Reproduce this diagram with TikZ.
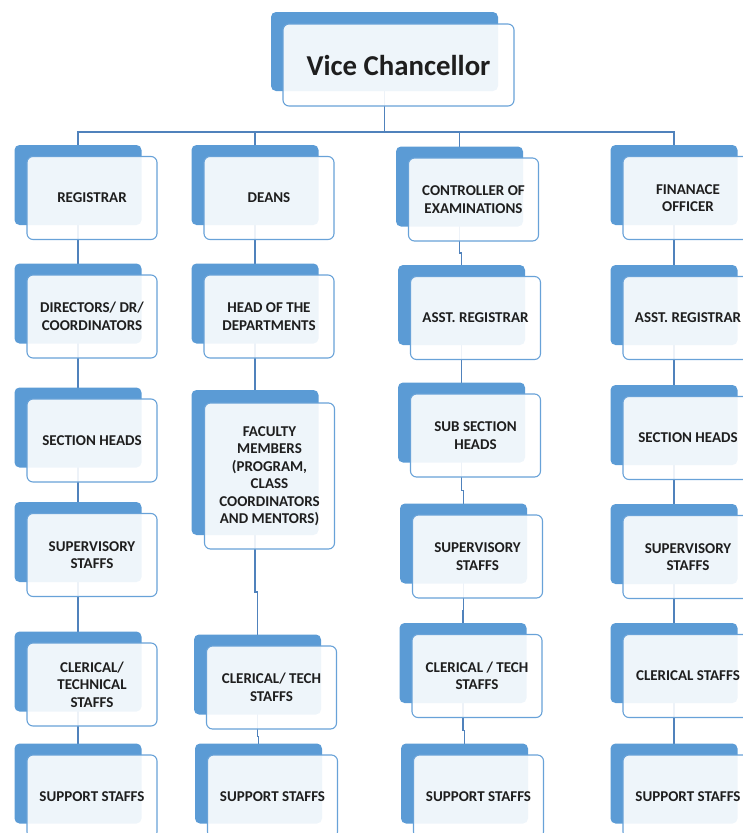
\documentclass[tikz,border=0pt]{standalone}
\usepackage{fontspec}
\setmainfont{Carlito}
\usetikzlibrary{calc}
\pgfdeclarelayer{bg}
\pgfsetlayers{bg,main}
\definecolor{backblue}{RGB}{91,155,213}
\definecolor{frontline}{RGB}{104,162,216}
\definecolor{conncol}{RGB}{80,130,188}
\definecolor{txt}{RGB}{30,30,30}
\tikzset{
  backbox/.style={fill=backblue, rounded corners=5pt, minimum width=127pt, minimum height=80pt, inner sep=0pt},
  frontbox/.style={draw=frontline, line width=1.1pt, fill=white, fill opacity=0.9, text opacity=1,
    rounded corners=6pt, minimum width=130pt, minimum height=83pt, inner sep=0pt, align=center,
    font=\bfseries\fontsize{15}{17.5}\selectfont, text=txt},
  conn/.style={draw=conncol, line width=1.4pt},
}
\newcommand\unitbox[4][]{%
  \node[backbox,#1] (b-#2) at ($(#3)+(-14,-13)$) {};
  \node[frontbox,#1] (#2) at (#3) {#4};}
\newcommand\linkup[2]{%
  \coordinate (mx) at ($(b-#1.center)!0.5!(b-#2.center)$);
  \coordinate (my) at ($(#1.south)!0.5!(b-#2.north)$);
  \draw[conn] (b-#1.center) |- (mx |- my) -| (b-#2.center);}
\begin{document}
\begin{tikzpicture}[x=1pt,y=-1pt]
\useasboundingbox (0,0) rectangle (743,833);
\clip (0,0) rectangle (743,833);
% Vice Chancellor
\node[backbox, minimum width=227pt, minimum height=79pt] (b-vc) at (384.5,51.5) {};
\node[frontbox, minimum width=231pt, minimum height=82pt, font=\bfseries\fontsize{28.8}{34}\selectfont] (vc) at (398.5,65) {Vice Chancellor};
% column 1
\unitbox{c1r1}{92,198}{REGISTRAR}
\unitbox{c1r2}{92,316.5}{DIRECTORS/ DR/\\COORDINATORS}
\unitbox{c1r3}{92,440.5}{SECTION HEADS}
\unitbox{c1r4}{92,555}{SUPERVISORY\\STAFFS}
\unitbox{c1r5}{92,684.5}{CLERICAL/\\TECHNICAL\\STAFFS}
\unitbox{c1r6}{92,796.5}{SUPPORT STAFFS}
% column 2
\unitbox{c2r1}{269,198}{DEANS}
\unitbox{c2r2}{269,316.5}{HEAD OF THE\\DEPARTMENTS}
\node[backbox, minimum height=145pt] (b-c2r3) at (255,462.5) {};
\node[frontbox, minimum height=146pt] (c2r3) at (269.5,476) {FACULTY\\MEMBERS\\(PROGRAM,\\CLASS\\COORDINATORS\\AND MENTORS)};
\unitbox{c2r5}{271.5,687.5}{CLERICAL/ TECH\\STAFFS}
\unitbox{c2r6}{272.5,796.5}{SUPPORT STAFFS}
% column 3
\unitbox{c3r1}{473.5,199.5}{CONTROLLER OF\\EXAMINATIONS}
\unitbox{c3r2}{475.5,318}{ASST. REGISTRAR}
\unitbox{c3r3}{475.5,435.5}{SUB SECTION\\HEADS}
\unitbox{c3r4}{477.5,556.5}{SUPERVISORY\\STAFFS}
\unitbox{c3r5}{477,676}{CLERICAL / TECH\\STAFFS}
\unitbox{c3r6}{478.5,796.5}{SUPPORT STAFFS}
% column 4
\unitbox{c4r1}{688,198}{FINANACE\\OFFICER}
\unitbox{c4r2}{688,318}{ASST. REGISTRAR}
\unitbox{c4r3}{688,438}{SECTION HEADS}
\unitbox{c4r4}{688,557}{SUPERVISORY\\STAFFS}
\unitbox{c4r5}{688,676}{CLERICAL STAFFS}
\unitbox{c4r6}{688,796.5}{SUPPORT STAFFS}
% connectors
\begin{pgfonlayer}{bg}
\coordinate (bus) at (0,132);
\draw[conn] (b-vc.center) -- (b-vc.center |- bus);
\foreach \n in {c1r1,c2r1,c3r1,c4r1}
  \draw[conn] (b-vc.center |- bus) -| (b-\n.center);
\linkup{c1r1}{c1r2}\linkup{c1r2}{c1r3}\linkup{c1r3}{c1r4}\linkup{c1r4}{c1r5}\linkup{c1r5}{c1r6}
\linkup{c2r1}{c2r2}\linkup{c2r2}{c2r3}\linkup{c2r3}{c2r5}\linkup{c2r5}{c2r6}
\linkup{c3r1}{c3r2}\linkup{c3r2}{c3r3}\linkup{c3r3}{c3r4}\linkup{c3r4}{c3r5}\linkup{c3r5}{c3r6}
\linkup{c4r1}{c4r2}\linkup{c4r2}{c4r3}\linkup{c4r3}{c4r4}\linkup{c4r4}{c4r5}\linkup{c4r5}{c4r6}
\end{pgfonlayer}
\end{tikzpicture}
\end{document}
